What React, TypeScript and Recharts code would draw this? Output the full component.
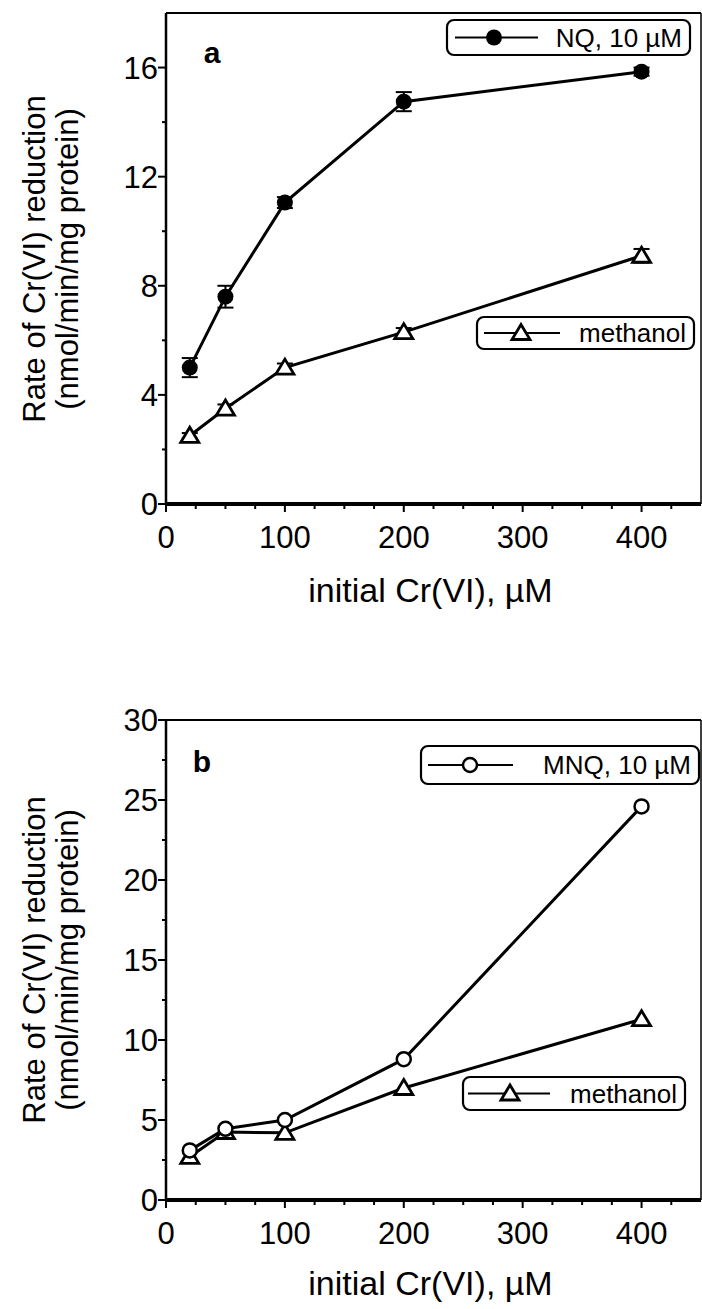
import { LineChart, Line, XAxis, YAxis, ErrorBar, ReferenceLine, Customized } from "recharts";

const FONT = '"Liberation Sans", Arial, Helvetica, sans-serif';

// initial Cr(VI), µM
const concentrations = [20, 50, 100, 200, 400];

// panel a
const nqRate = [5.0, 7.6, 11.05, 14.75, 15.85];
const nqErr = [0.35, 0.4, 0.2, 0.35, 0.15];
const methanolRateA = [2.5, 3.5, 5.0, 6.3, 9.1];
const methanolErrA = [0.1, 0.15, 0.15, 0.15, 0.25];

// panel b
const mnqRate = [3.1, 4.45, 5.0, 8.8, 24.6];
const methanolRateB = [2.7, 4.25, 4.2, 7.0, 11.3];

const xTicks = [0, 25, 50, 75, 100, 125, 150, 175, 200, 225, 250, 275, 300, 325, 350, 375, 400, 425];
const yTicksA = [0, 2, 4, 6, 8, 10, 12, 14, 16];
const yTicksB = [0, 2.5, 5, 7.5, 10, 12.5, 15, 17.5, 20, 22.5, 25, 27.5, 30];

const dataA = concentrations.map((c, i) => ({
  conc: c,
  nq: nqRate[i],
  nqErr: nqErr[i],
  methanol: methanolRateA[i],
  methanolErr: methanolErrA[i],
}));

const dataB = concentrations.map((c, i) => ({
  conc: c,
  mnq: mnqRate[i],
  methanol: methanolRateB[i],
}));

const W = 702;
const PLOT_LEFT = 166;
const PLOT_RIGHT = 701;
const PLOT_MID = (PLOT_LEFT + PLOT_RIGHT) / 2;

function Triangle({ cx, cy }: { cx: number; cy: number }) {
  return (
    <polygon
      points={`${cx},${cy - 8.5} ${cx - 9},${cy + 6.5} ${cx + 9},${cy + 6.5}`}
      fill="#fff"
      stroke="#000"
      strokeWidth={2.8}
    />
  );
}

function FilledCircle({ cx, cy }: { cx: number; cy: number }) {
  return <circle cx={cx} cy={cy} r={8} fill="#000" />;
}

function OpenCircle({ cx, cy }: { cx: number; cy: number }) {
  return <circle cx={cx} cy={cy} r={7} fill="#fff" stroke="#000" strokeWidth={2.5} />;
}

const XTick = (props: any) => {
  const { x, y, payload } = props;
  const major = payload.value % 100 === 0;
  return (
    <g>
      <line x1={x} x2={x} y1={y} y2={y + (major ? 8 : 5)} stroke="#000" strokeWidth={2} />
      {major && (
        <text x={x} y={y + 44} textAnchor="middle" fontSize={31} fontFamily={FONT} fill="#000">
          {payload.value}
        </text>
      )}
    </g>
  );
};

const makeYTick = (step: number) => (props: any) => {
  const { x, y, payload } = props;
  const major = payload.value % step === 0;
  return (
    <g>
      <line x1={x} x2={x - (major ? 8 : 4)} y1={y} y2={y} stroke="#000" strokeWidth={2} />
      {major && (
        <text x={x - 8} y={y + 11} textAnchor="end" fontSize={31} fontFamily={FONT} fill="#000">
          {payload.value}
        </text>
      )}
    </g>
  );
};

function LegendBox({
  x, y, w, h, line1, line2, markerX, text, fontSize, Marker,
}: {
  x: number; y: number; w: number; h: number; line1: number; line2: number;
  markerX: number; text: string; fontSize: number; Marker: any;
}) {
  const cy = y + h / 2;
  return (
    <g>
      <rect x={x} y={y} width={w} height={h} rx={7} ry={7} fill="#fff" stroke="#000" strokeWidth={2.2} />
      <line x1={line1} x2={line2} y1={cy} y2={cy} stroke="#000" strokeWidth={2} />
      <Marker cx={markerX} cy={cy} />
      <text x={x + w - 8} y={cy + fontSize * 0.36} textAnchor="end" fontSize={fontSize} fontFamily={FONT} fill="#000">
        {text}
      </text>
    </g>
  );
}

function YTitle({ cy }: { cy: number }) {
  return (
    <g fontFamily={FONT} fontSize={31} fill="#000">
      <text x={34} y={cy} textAnchor="middle" dominantBaseline="central" transform={`rotate(-90 34 ${cy})`}>
        Rate of Cr(VI) reduction
      </text>
      <text x={67} y={cy} textAnchor="middle" dominantBaseline="central" transform={`rotate(-90 67 ${cy})`}>
        (nmol/min/mg protein)
      </text>
    </g>
  );
}

function XTitle({ y }: { y: number }) {
  return (
    <text x={PLOT_MID - 3} y={y} textAnchor="middle" fontSize={34} fontFamily={FONT} fill="#000">
      initial Cr(VI), µM
    </text>
  );
}

function PanelA() {
  return (
    <LineChart width={W} height={700} data={dataA} margin={{ top: 13, right: W - PLOT_RIGHT, left: 0, bottom: 0 }}>
      <XAxis
        dataKey="conc"
        type="number"
        domain={[0, 450]}
        ticks={xTicks}
        interval={0}
        tickSize={0}
        tickMargin={0}
        tick={XTick}
        height={196}
        axisLine={{ stroke: "#000", strokeWidth: 4 }}
        tickLine={false}
      />
      <YAxis
        type="number"
        domain={[0, 18]}
        ticks={yTicksA}
        interval={0}
        tickSize={0}
        tickMargin={0}
        tick={makeYTick(4)}
        width={PLOT_LEFT}
        axisLine={{ stroke: "#000", strokeWidth: 2.5 }}
        tickLine={false}
      />
      <ReferenceLine y={18} stroke="#000" strokeWidth={2} />
      <ReferenceLine x={450} stroke="#000" strokeWidth={1.5} />
      <Line
        dataKey="methanol"
        stroke="#000"
        strokeWidth={3}
        isAnimationActive={false}
        dot={(p: any) => <Triangle key={`ma${p.index}`} cx={p.cx} cy={p.cy} />}
      >
        <ErrorBar dataKey="methanolErr" direction="y" width={8} stroke="#000" strokeWidth={2} />
      </Line>
      <Line
        dataKey="nq"
        stroke="#000"
        strokeWidth={3}
        isAnimationActive={false}
        dot={(p: any) => <FilledCircle key={`nq${p.index}`} cx={p.cx} cy={p.cy} />}
      >
        <ErrorBar dataKey="nqErr" direction="y" width={8} stroke="#000" strokeWidth={2} />
      </Line>
      <Customized
        component={() => (
          <g>
            <text x={212} y={63} textAnchor="middle" fontSize={30} fontWeight="bold" fontFamily={FONT}>a</text>
            <LegendBox x={447} y={20} w={243} h={35} line1={455} line2={538} markerX={494} text="NQ, 10 µM" fontSize={26} Marker={FilledCircle} />
            <LegendBox x={477} y={317} w={217} h={32} line1={484} line2={560} markerX={521} text="methanol" fontSize={26} Marker={Triangle} />
            <YTitle cy={259} />
            <XTitle y={602} />
          </g>
        )}
      />
    </LineChart>
  );
}

function PanelB() {
  return (
    <LineChart width={W} height={609} data={dataB} margin={{ top: 20, right: W - PLOT_RIGHT, left: 0, bottom: 0 }}>
      <XAxis
        dataKey="conc"
        type="number"
        domain={[0, 450]}
        ticks={xTicks}
        interval={0}
        tickSize={0}
        tickMargin={0}
        tick={XTick}
        height={109}
        axisLine={{ stroke: "#000", strokeWidth: 4 }}
        tickLine={false}
      />
      <YAxis
        type="number"
        domain={[0, 30]}
        ticks={yTicksB}
        interval={0}
        tickSize={0}
        tickMargin={0}
        tick={makeYTick(5)}
        width={PLOT_LEFT}
        axisLine={{ stroke: "#000", strokeWidth: 2.5 }}
        tickLine={false}
      />
      <ReferenceLine y={30} stroke="#000" strokeWidth={2} />
      <ReferenceLine x={450} stroke="#000" strokeWidth={1.5} />
      <Line
        dataKey="methanol"
        stroke="#000"
        strokeWidth={3}
        isAnimationActive={false}
        dot={(p: any) => <Triangle key={`mb${p.index}`} cx={p.cx} cy={p.cy} />}
      />
      <Line
        dataKey="mnq"
        stroke="#000"
        strokeWidth={3}
        isAnimationActive={false}
        dot={(p: any) => <OpenCircle key={`mnq${p.index}`} cx={p.cx} cy={p.cy} />}
      />
      <Customized
        component={() => (
          <g>
            <text x={202} y={72} textAnchor="middle" fontSize={30} fontWeight="bold" fontFamily={FONT}>b</text>
            <LegendBox x={421} y={46} w={278} h={38} line1={428} line2={513} markerX={470} text="MNQ, 10 µM" fontSize={26} Marker={OpenCircle} />
            <LegendBox x={463} y={377} w={222} h={33} line1={468} line2={550} markerX={510} text="methanol" fontSize={26} Marker={Triangle} />
            <YTitle cy={260} />
            <XTitle y={595} />
          </g>
        )}
      />
    </LineChart>
  );
}

export default function App() {
  return (
    <div style={{ position: "absolute", left: 0, top: 0, width: W, height: 1309, background: "#fff" }}>
      <PanelA />
      <PanelB />
    </div>
  );
}
